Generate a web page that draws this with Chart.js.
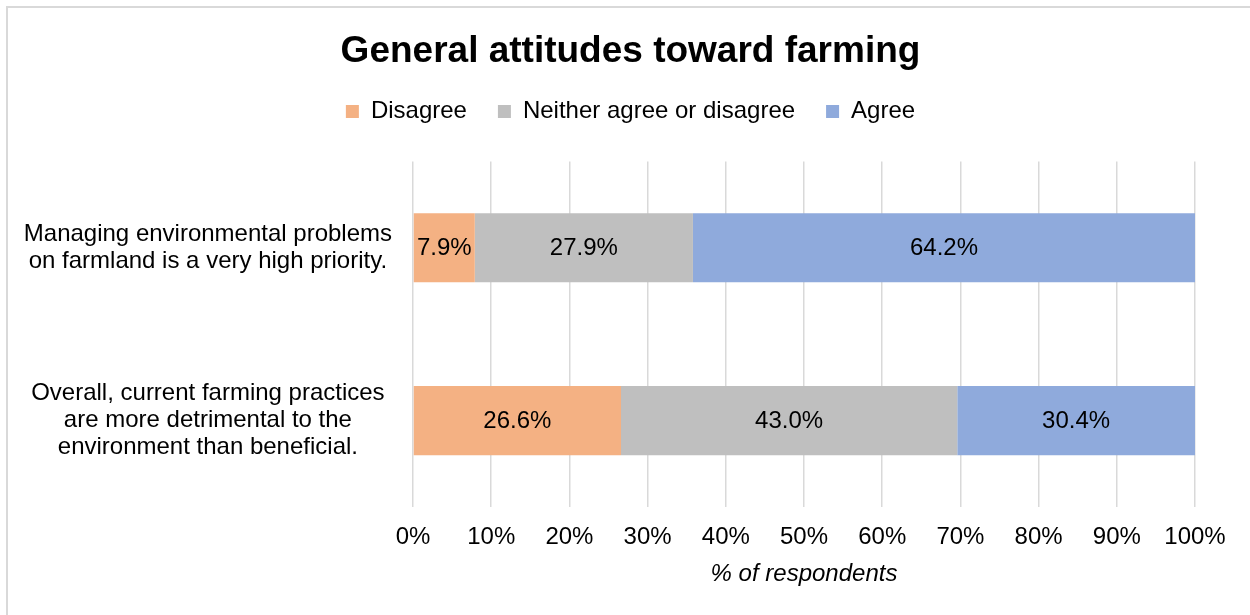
<!DOCTYPE html>
<html>
<head>
<meta charset="utf-8">
<script src="https://cdn.jsdelivr.net/npm/chart.js@4/dist/chart.umd.min.js"></script>
<style>
  body { margin: 0; background: #fff; overflow: hidden; }
  #frame {
    position: absolute; left: 6px; top: 6px;
    width: 1300px; height: 700px;
    border: 2px solid #d9d9d9;
  }
  #wrap { position: absolute; left: 0; top: 0; width: 1250px; height: 615px; }
</style>
</head>
<body>
<div id="frame"></div>
<div id="wrap"><canvas id="grafico"></canvas></div>
<script>
const categorias = [
  ["Managing environmental problems", "on farmland is a very high priority."],
  ["Overall, current farming practices", "are more detrimental to the", "environment than beneficial."]
];
const series = ["Disagree", "Neither agree or disagree", "Agree"];
const discordo = [7.9, 26.6];
const neutro = [27.9, 43.0];
const concordo = [64.2, 30.4];
const ticksX = [0, 10, 20, 30, 40, 50, 60, 70, 80, 90, 100];

const cores = ["#F4B183", "#BFBFBF", "#8FAADC"];
const fonte = "'Liberation Sans', Arial, sans-serif";

// rotulos de valor no meio de cada barra
const rotulos = {
  id: "rotulos",
  afterDatasetsDraw(chart) {
    const ctx = chart.ctx;
    ctx.save();
    ctx.font = "24px " + fonte;
    ctx.fillStyle = "#000";
    ctx.textAlign = "center";
    ctx.textBaseline = "middle";
    chart.data.datasets.forEach((ds, i) => {
      chart.getDatasetMeta(i).data.forEach((bar, j) => {
        const x = (bar.x + bar.base) / 2;
        ctx.fillText(ds.data[j].toFixed(1) + "%", x, bar.y + 1);
      });
    });
    ctx.restore();
  }
};

// espaco extra abaixo da legenda e titulo/legenda centrados no quadro
const ajusteTopo = {
  id: "ajusteTopo",
  beforeInit(chart) {
    const leg = chart.legend;
    if (!leg) return;
    const fitOriginal = leg.fit;
    leg.fit = function () {
      fitOriginal.call(this);
      this.height += 28;
    };
  },
  afterLayout(chart) {
    [chart.titleBlock, chart.legend].forEach(box => {
      if (!box) return;
      box.left += 33;
      box.right += 33;
    });
  }
};

new Chart(document.getElementById("grafico"), {
  type: "bar",
  data: {
    labels: categorias,
    datasets: [
      { label: series[0], data: discordo, backgroundColor: cores[0] },
      { label: series[1], data: neutro, backgroundColor: cores[1] },
      { label: series[2], data: concordo, backgroundColor: cores[2] }
    ]
  },
  options: {
    indexAxis: "y",
    responsive: true,
    maintainAspectRatio: false,
    animation: false,
    layout: { padding: { left: 0, right: 55, top: 0, bottom: 0 } },
    datasets: { bar: { categoryPercentage: 0.8, barPercentage: 0.5 } },
    plugins: {
      title: {
        display: true,
        text: "General attitudes toward farming",
        color: "#000",
        font: { family: fonte, size: 37, weight: "bold" },
        padding: { top: 30, bottom: -6 }
      },
      legend: {
        position: "top",
        labels: {
          color: "#000",
          font: { family: fonte, size: 24 },
          boxWidth: 13,
          boxHeight: 13,
          padding: 31
        }
      },
      tooltip: { enabled: false }
    },
    scales: {
      x: {
        stacked: true,
        min: 0,
        max: 100,
        afterBuildTicks: scale => { scale.ticks = ticksX.map(v => ({ value: v })); },
        afterFit: scale => { scale.height = 108; },
        grid: { color: "#d9d9d9", lineWidth: 1.5, drawTicks: false },
        border: { display: false },
        ticks: {
          color: "#000",
          font: { family: fonte, size: 24 },
          padding: 16,
          callback: v => v + "%"
        },
        title: {
          display: true,
          text: "% of respondents",
          color: "#000",
          font: { family: fonte, size: 24, style: "italic" },
          padding: { top: 0, bottom: 26 }
        }
      },
      y: {
        stacked: true,
        afterFit: scale => { scale.width = 413; },
        grid: { display: false, drawTicks: false },
        border: { display: false },
        ticks: {
          color: "#000",
          crossAlign: "center",
          padding: 21,
          font: { family: fonte, size: 24, lineHeight: 1.13 }
        }
      }
    }
  },
  plugins: [rotulos, ajusteTopo]
});
</script>
</body>
</html>
